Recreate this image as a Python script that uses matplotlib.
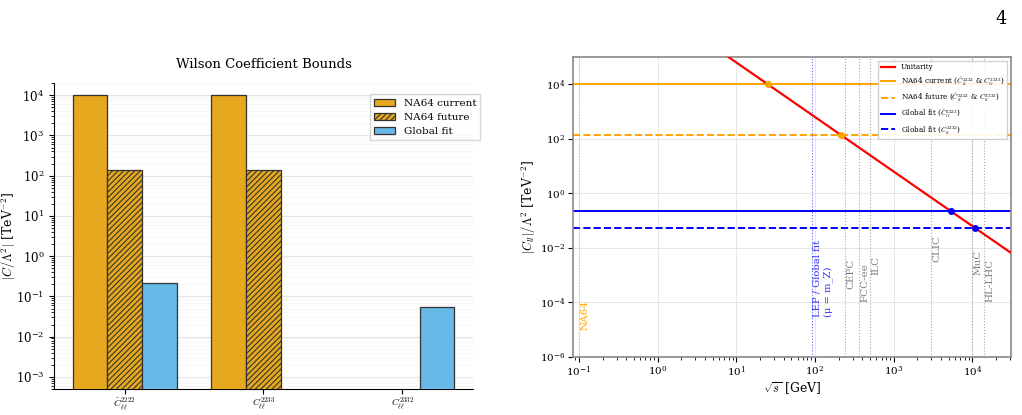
import numpy as np
import matplotlib
matplotlib.use('Agg')
import matplotlib.pyplot as plt

plt.rcParams['font.family'] = 'DejaVu Serif'
plt.rcParams['mathtext.fontset'] = 'cm'
plt.rcParams['hatch.color'] = '#3a2a00'
plt.rcParams['hatch.linewidth'] = 0.8

# left panel: bounds per operator
operators = [r'$\hat{C}_{\ell\ell}^{2222}$', r'$C_{\ell\ell}^{2233}$', r'$C_{\ell\ell}^{2332}$']
na64_current = [1e4, 1e4, np.nan]
na64_future = [140, 140, np.nan]
global_fit = [0.22, np.nan, 0.055]

# right panel
unit_sqrt_s = [8.0, 30000.0]          # GeV
unit_C = [9.8e4, 6.98e-3]             # TeV^-2
cross_x = [25, 212, 5340, 10700]
cross_y = [1e4, 140, 0.22, 0.055]
colliders = ['CEPC', 'FCC-ee', 'ILC', 'CLIC', 'MuC', 'HL-LHC']
collider_E = [240, 365, 500, 3000, 10000, 14000]
collider_label_y = [3e-4, 1e-4, 1e-3, 3e-3, 1e-3, 1e-4]

fig = plt.figure(figsize=(10.22, 4.15), dpi=100)
fig.text(0.985, 0.955, '4', fontsize=13, ha='right', va='center')

# ---- left ----
ax = fig.add_axes([0.0528, 0.0627, 0.41, 0.737])
x = np.arange(len(operators))
w = 0.25
ax.bar(x - w, na64_current, w, color='#E6A81E', edgecolor='#333333', lw=0.9, label='NA64 current', zorder=3)
ax.bar(x, na64_future, w, color='#E6A81E', edgecolor='#333333', lw=0.9, hatch='//////', label='NA64 future', zorder=3)
ax.bar(x + w, global_fit, w, color='#68B9E8', edgecolor='#333333', lw=0.9, label='Global fit', zorder=3)
ax.set_yscale('log')
ax.set_ylim(5e-4, 2e4)
ax.set_xlim(-0.51, 2.51)
ax.set_xticks(x)
ax.set_xticklabels(operators, fontsize=7)
ax.tick_params(axis='x', pad=1)
ax.tick_params(axis='y', labelsize=8.5)
ax.set_ylabel(r'$|C/\Lambda^2|$ [TeV$^{-2}$]', fontsize=9)
ax.yaxis.set_label_coords(-0.085, 0.5)
ax.set_title('Wilson Coefficient Bounds', fontsize=9.5, pad=11)
ax.grid(True, which='major', axis='y', color='#e4e4e4', lw=0.8, zorder=0)
ax.grid(True, which='minor', axis='y', color='#f4f4f4', lw=0.5, zorder=0)
ax.spines['top'].set_visible(False)
ax.spines['right'].set_visible(False)
ax.legend(loc='upper right', fontsize=7.5, bbox_to_anchor=(1.03, 0.98), fancybox=False,
          labelspacing=0.45)

# ---- right ----
ax2 = fig.add_axes([0.5607, 0.1398, 0.4286, 0.7229])
ax2.set_xscale('log')
ax2.set_yscale('log')
ax2.set_xlim(0.084, 3.1e4)
ax2.set_ylim(1e-6, 1e5)
ax2.grid(True, which='major', color='#e6e6e6', lw=0.7, zorder=0)
ax2.plot(unit_sqrt_s, unit_C, color='red', lw=1.6, label='Unitarity', zorder=4)
ax2.axhline(cross_y[0], color='orange', lw=1.4, label=r'NA64 current ($\hat{C}_{ll}^{2222}$ & $C_{ll}^{2233}$)')
ax2.axhline(cross_y[1], color='orange', lw=1.4, ls='--', label=r'NA64 future ($\hat{C}_{ll}^{2222}$ & $C_{ll}^{2233}$)')
ax2.axhline(cross_y[2], color='blue', lw=1.4, label=r'Global fit ($\hat{C}_{ll}^{2222}$)')
ax2.axhline(cross_y[3], color='blue', lw=1.4, ls='--', label=r'Global fit ($C_{ll}^{2332}$)')
ax2.plot(cross_x[:2], cross_y[:2], 'o', color='orange', ms=4, zorder=5)
ax2.plot(cross_x[2:], cross_y[2:], 'o', color='blue', ms=4, zorder=5)

ax2.axvline(0.1, color='orange', ls=':', lw=0.8, alpha=0.6)
ax2.text(0.105, 1e-5, 'NA64', rotation=90, color='orange', fontsize=7.5, ha='left', va='bottom')
ax2.axvline(91.19, color='blue', ls=':', lw=0.8, alpha=0.6)
ax2.text(93, 3e-5, 'LEP / Global fit\n(μ = m_Z)', rotation=90, color='blue', fontsize=7.2,
         ha='left', va='bottom', alpha=0.8)
for name, E, yl in zip(colliders, collider_E, collider_label_y):
    ax2.axvline(E, color='gray', ls=':', lw=0.8, alpha=0.7)
    ax2.text(E * 1.04, yl, name, rotation=90, color='gray', fontsize=7.5, ha='left', va='bottom')

for s in ax2.spines.values():
    s.set_color('#888888')
    s.set_linewidth(1.2)
ax2.tick_params(axis='both', labelsize=7.5, pad=2)
ax2.set_xlabel(r'$\sqrt{s}$ [GeV]', fontsize=9, labelpad=1)
ax2.set_ylabel(r'$|C_{ll}|/\Lambda^2$ [TeV$^{-2}$]', fontsize=9, labelpad=1)
ax2.legend(loc='upper right', fontsize=5.2, fancybox=False, framealpha=0.9)

fig.savefig('out.png', dpi=100)
